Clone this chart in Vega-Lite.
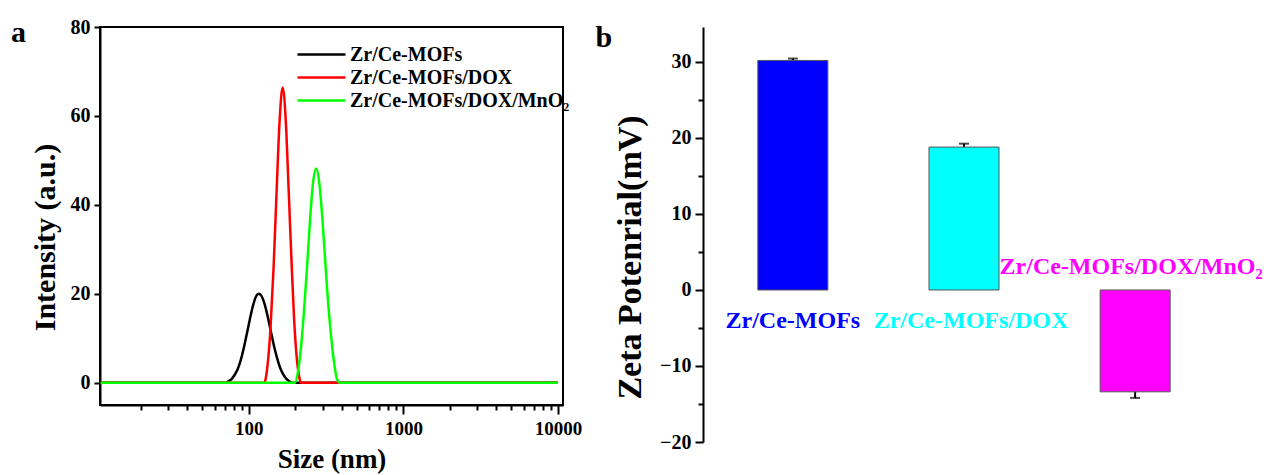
{
  "$schema": "https://vega.github.io/schema/vega-lite/v6.json",
  "background": "white",
  "padding": {"left": 10, "top": 16, "right": 5, "bottom": 5},
  "spacing": 12,
  "resolve": {"scale": {"color": "independent"}},
  "config": {
    "font": "Liberation Serif",
    "axis": {"labelFont": "Liberation Serif", "labelFontWeight": "bold", "labelColor": "black", "titleFont": "Liberation Serif", "titleFontWeight": "bold", "titleColor": "black", "domainColor": "black", "domainWidth": 2, "tickColor": "black", "tickWidth": 2, "grid": false},
    "title": {"font": "Liberation Serif", "fontWeight": "bold", "fontSize": 30, "color": "black"}
  },
  "hconcat": [
    {
      "width": 463,
      "height": 378,
      "title": {"text": "a", "anchor": "start", "frame": "bounds", "offset": -31, "dx": -19},
      "view": {"stroke": "black", "strokeWidth": 2},
      "data": {"values": [
        {"sample": "Zr/Ce-MOFs", "size": 11, "intensity": 0},
        {"sample": "Zr/Ce-MOFs", "size": 20, "intensity": 0},
        {"sample": "Zr/Ce-MOFs", "size": 40, "intensity": 0},
        {"sample": "Zr/Ce-MOFs", "size": 60, "intensity": 0},
        {"sample": "Zr/Ce-MOFs", "size": 70.9, "intensity": 0},
        {"sample": "Zr/Ce-MOFs", "size": 74.1, "intensity": 0.4},
        {"sample": "Zr/Ce-MOFs", "size": 77.6, "intensity": 0.9},
        {"sample": "Zr/Ce-MOFs", "size": 81.1, "intensity": 1.8},
        {"sample": "Zr/Ce-MOFs", "size": 84.8, "intensity": 3.1},
        {"sample": "Zr/Ce-MOFs", "size": 88.7, "intensity": 5.1},
        {"sample": "Zr/Ce-MOFs", "size": 92.8, "intensity": 7.8},
        {"sample": "Zr/Ce-MOFs", "size": 97.0, "intensity": 10.9},
        {"sample": "Zr/Ce-MOFs", "size": 101.5, "intensity": 14.2},
        {"sample": "Zr/Ce-MOFs", "size": 106.2, "intensity": 17.2},
        {"sample": "Zr/Ce-MOFs", "size": 111.0, "intensity": 19.3},
        {"sample": "Zr/Ce-MOFs", "size": 116.1, "intensity": 20.0},
        {"sample": "Zr/Ce-MOFs", "size": 121.4, "intensity": 19.4},
        {"sample": "Zr/Ce-MOFs", "size": 127.0, "intensity": 17.5},
        {"sample": "Zr/Ce-MOFs", "size": 132.9, "intensity": 14.7},
        {"sample": "Zr/Ce-MOFs", "size": 139.0, "intensity": 11.5},
        {"sample": "Zr/Ce-MOFs", "size": 145.3, "intensity": 8.4},
        {"sample": "Zr/Ce-MOFs", "size": 152.0, "intensity": 5.7},
        {"sample": "Zr/Ce-MOFs", "size": 159.0, "intensity": 3.5},
        {"sample": "Zr/Ce-MOFs", "size": 166.3, "intensity": 2.0},
        {"sample": "Zr/Ce-MOFs", "size": 173.9, "intensity": 1.0},
        {"sample": "Zr/Ce-MOFs", "size": 181.8, "intensity": 0.4},
        {"sample": "Zr/Ce-MOFs", "size": 190.2, "intensity": 0},
        {"sample": "Zr/Ce-MOFs", "size": 300, "intensity": 0},
        {"sample": "Zr/Ce-MOFs", "size": 1000, "intensity": 0},
        {"sample": "Zr/Ce-MOFs", "size": 5000, "intensity": 0},
        {"sample": "Zr/Ce-MOFs", "size": 10000, "intensity": 0},
        {"sample": "Zr/Ce-MOFs/DOX", "size": 11, "intensity": 0},
        {"sample": "Zr/Ce-MOFs/DOX", "size": 50, "intensity": 0},
        {"sample": "Zr/Ce-MOFs/DOX", "size": 100, "intensity": 0},
        {"sample": "Zr/Ce-MOFs/DOX", "size": 126.5, "intensity": 0},
        {"sample": "Zr/Ce-MOFs/DOX", "size": 128.4, "intensity": 0.8},
        {"sample": "Zr/Ce-MOFs/DOX", "size": 132.3, "intensity": 4.0},
        {"sample": "Zr/Ce-MOFs/DOX", "size": 138.3, "intensity": 12.5},
        {"sample": "Zr/Ce-MOFs/DOX", "size": 144.7, "intensity": 26.0},
        {"sample": "Zr/Ce-MOFs/DOX", "size": 151.3, "intensity": 43.0},
        {"sample": "Zr/Ce-MOFs/DOX", "size": 158.3, "intensity": 59.0},
        {"sample": "Zr/Ce-MOFs/DOX", "size": 165.5, "intensity": 66.4},
        {"sample": "Zr/Ce-MOFs/DOX", "size": 173.1, "intensity": 59.5},
        {"sample": "Zr/Ce-MOFs/DOX", "size": 181.0, "intensity": 43.5},
        {"sample": "Zr/Ce-MOFs/DOX", "size": 189.4, "intensity": 26.5},
        {"sample": "Zr/Ce-MOFs/DOX", "size": 198.1, "intensity": 12.0},
        {"sample": "Zr/Ce-MOFs/DOX", "size": 207.2, "intensity": 3.5},
        {"sample": "Zr/Ce-MOFs/DOX", "size": 213.5, "intensity": 0.8},
        {"sample": "Zr/Ce-MOFs/DOX", "size": 216.7, "intensity": 0},
        {"sample": "Zr/Ce-MOFs/DOX", "size": 400, "intensity": 0},
        {"sample": "Zr/Ce-MOFs/DOX", "size": 1000, "intensity": 0},
        {"sample": "Zr/Ce-MOFs/DOX", "size": 10000, "intensity": 0},
        {"sample": "Zr/Ce-MOFs/DOX/MnO₂", "size": 11, "intensity": 0},
        {"sample": "Zr/Ce-MOFs/DOX/MnO₂", "size": 50, "intensity": 0},
        {"sample": "Zr/Ce-MOFs/DOX/MnO₂", "size": 100, "intensity": 0},
        {"sample": "Zr/Ce-MOFs/DOX/MnO₂", "size": 198.9, "intensity": 0},
        {"sample": "Zr/Ce-MOFs/DOX/MnO₂", "size": 208.1, "intensity": 2.5},
        {"sample": "Zr/Ce-MOFs/DOX/MnO₂", "size": 217.7, "intensity": 8.0},
        {"sample": "Zr/Ce-MOFs/DOX/MnO₂", "size": 227.6, "intensity": 16.1},
        {"sample": "Zr/Ce-MOFs/DOX/MnO₂", "size": 238.1, "intensity": 26.0},
        {"sample": "Zr/Ce-MOFs/DOX/MnO₂", "size": 249.0, "intensity": 36.6},
        {"sample": "Zr/Ce-MOFs/DOX/MnO₂", "size": 260.4, "intensity": 45.0},
        {"sample": "Zr/Ce-MOFs/DOX/MnO₂", "size": 272.3, "intensity": 48.2},
        {"sample": "Zr/Ce-MOFs/DOX/MnO₂", "size": 284.8, "intensity": 45.4},
        {"sample": "Zr/Ce-MOFs/DOX/MnO₂", "size": 297.9, "intensity": 37.8},
        {"sample": "Zr/Ce-MOFs/DOX/MnO₂", "size": 311.5, "intensity": 27.9},
        {"sample": "Zr/Ce-MOFs/DOX/MnO₂", "size": 325.8, "intensity": 18.2},
        {"sample": "Zr/Ce-MOFs/DOX/MnO₂", "size": 340.8, "intensity": 10.5},
        {"sample": "Zr/Ce-MOFs/DOX/MnO₂", "size": 356.3, "intensity": 4.5},
        {"sample": "Zr/Ce-MOFs/DOX/MnO₂", "size": 372.7, "intensity": 0.8},
        {"sample": "Zr/Ce-MOFs/DOX/MnO₂", "size": 389.8, "intensity": 0},
        {"sample": "Zr/Ce-MOFs/DOX/MnO₂", "size": 1000, "intensity": 0},
        {"sample": "Zr/Ce-MOFs/DOX/MnO₂", "size": 5000, "intensity": 0},
        {"sample": "Zr/Ce-MOFs/DOX/MnO₂", "size": 10000, "intensity": 0}
      ]},
      "mark": {"type": "line", "strokeWidth": 2.5, "interpolate": "monotone"},
      "encoding": {
        "x": {
          "field": "size", "type": "quantitative",
          "scale": {"type": "log", "domain": [10.9, 10780], "nice": false},
          "axis": {
            "title": "Size (nm)", "titleFontSize": 27, "labelFontSize": 19,
            "values": [20,30,40,50,60,70,80,90,100,200,300,400,500,600,700,800,900,1000,2000,3000,4000,5000,6000,7000,8000,9000,10000],
            "format": "d",
            "labelExpr": "datum.value == 100 || datum.value == 1000 || datum.value == 10000 ? datum.label : ''",
            "tickSize": {"condition": {"test": "datum.value == 100 || datum.value == 1000 || datum.value == 10000", "value": 9}, "value": 5},
            "labelPadding": 5, "titlePadding": 8, "labelFlush": false, "labelOverlap": false
          }
        },
        "y": {
          "field": "intensity", "type": "quantitative",
          "scale": {"domain": [-5, 80], "nice": false},
          "axis": {"title": "Intensity (a.u.)", "titleFontSize": 30, "titleY": 210, "labelFontSize": 20, "values": [0,20,40,60,80], "tickSize": 6, "labelPadding": 4, "titlePadding": 10}
        },
        "color": {
          "field": "sample", "type": "nominal",
          "scale": {"domain": ["Zr/Ce-MOFs", "Zr/Ce-MOFs/DOX", "Zr/Ce-MOFs/DOX/MnO₂"], "range": ["black", "#ff0000", "#00ff00"]},
          "legend": {
            "title": null, "orient": "none", "legendX": 196, "legendY": 16,
            "symbolType": "stroke", "symbolSize": 2304, "symbolStrokeWidth": 2.5, "clipHeight": 23,
            "labelFont": "Liberation Serif", "labelFontWeight": "bold", "labelFontSize": 20, "labelColor": "black",
            "labelOffset": 3, "labelLimit": 400, "rowPadding": 0
          }
        }
      }
    },
    {
      "width": 522,
      "height": 415,
      "title": {"text": "b", "anchor": "start", "frame": "bounds", "offset": -26, "dx": -18},
      "view": {"stroke": null},
      "data": {"values": [
        {"sample": "Zr/Ce-MOFs", "zeta": 30.2, "lo": 29.95, "hi": 30.45},
        {"sample": "Zr/Ce-MOFs/DOX", "zeta": 18.8, "lo": 18.35, "hi": 19.25},
        {"sample": "Zr/Ce-MOFs/DOX/MnO₂", "zeta": -13.4, "lo": -14.2, "hi": -12.6}
      ]},
      "encoding": {
        "x": {"field": "sample", "type": "nominal", "sort": null, "scale": {"paddingInner": 0.59, "paddingOuter": 0.32}, "axis": null}
      },
      "layer": [
        {
          "mark": {"type": "rule", "strokeWidth": 2, "color": "black"},
          "encoding": {
            "y": {
              "field": "lo", "type": "quantitative",
              "scale": {"domain": [-20, 34.6], "nice": false},
              "axis": {
                "title": "Zeta Potenrial(mV)", "titleFontSize": 34, "titleY": 230, "labelFontSize": 20,
                "values": [-20,-15,-10,-5,0,5,10,15,20,25,30,35],
                "labelExpr": "datum.value % 10 == 0 ? datum.label : ''",
                "tickSize": {"condition": {"test": "datum.value % 10 == 0", "value": 8}, "value": 5},
                "labelPadding": 4, "titlePadding": 12
              }
            },
            "y2": {"field": "hi"}
          }
        },
        {"mark": {"type": "tick", "size": 10, "thickness": 2, "color": "black"}, "encoding": {"y": {"field": "hi", "type": "quantitative"}}},
        {"mark": {"type": "tick", "size": 10, "thickness": 2, "color": "black"}, "encoding": {"y": {"field": "lo", "type": "quantitative"}}},
        {
          "mark": {"type": "bar", "stroke": "#555555", "strokeWidth": 1, "width": 70},
          "encoding": {
            "y": {"field": "zeta", "type": "quantitative"},
            "color": {"field": "sample", "type": "nominal", "scale": {"domain": ["Zr/Ce-MOFs", "Zr/Ce-MOFs/DOX", "Zr/Ce-MOFs/DOX/MnO₂"], "range": ["#0000ff", "#00ffff", "#ff00ff"]}, "legend": null}
          }
        },
        {"mark": {"type": "rule", "strokeWidth": 2, "color": "black"}, "encoding": {"y": {"datum": 0}}},
        {
          "transform": [{"filter": "datum.sample == 'Zr/Ce-MOFs'"}],
          "mark": {"type": "text", "dy": 31, "fontSize": 24, "fontWeight": "bold", "font": "Liberation Serif", "baseline": "middle"},
          "encoding": {"y": {"datum": 0}, "text": {"field": "sample"}, "color": {"field": "sample", "type": "nominal", "legend": null}}
        },
        {
          "transform": [{"filter": "datum.sample == 'Zr/Ce-MOFs/DOX'"}],
          "mark": {"type": "text", "dy": 31, "dx": 7, "fontSize": 24, "fontWeight": "bold", "font": "Liberation Serif", "baseline": "middle"},
          "encoding": {"y": {"datum": 0}, "text": {"field": "sample"}, "color": {"field": "sample", "type": "nominal", "legend": null}}
        },
        {
          "transform": [{"filter": "datum.sample == 'Zr/Ce-MOFs/DOX/MnO₂'"}],
          "mark": {"type": "text", "dy": -23, "dx": -4, "fontSize": 24, "fontWeight": "bold", "font": "Liberation Serif", "baseline": "middle"},
          "encoding": {"y": {"datum": 0}, "text": {"field": "sample"}, "color": {"field": "sample", "type": "nominal", "legend": null}}
        }
      ]
    }
  ]
}
